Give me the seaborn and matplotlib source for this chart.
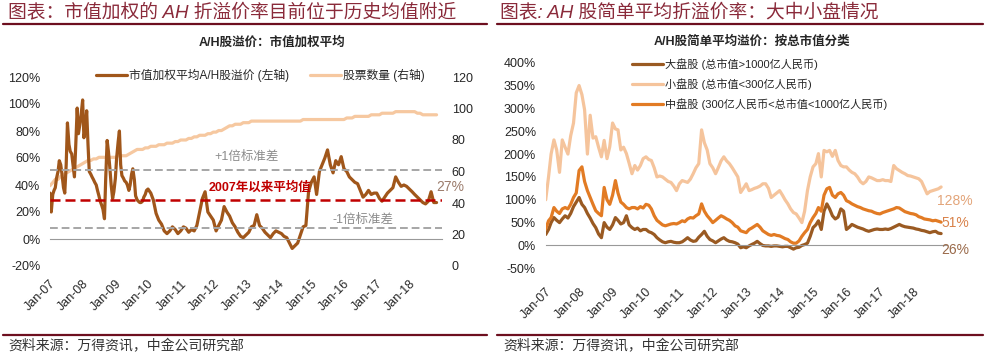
import matplotlib
matplotlib.use("Agg")
import matplotlib.pyplot as plt
import seaborn as sns
import pandas as pd

sns.set_style("white")
plt.rcParams['font.family'] = ['Liberation Sans', 'Noto Sans CJK SC', 'DejaVu Sans']

# ---------------- left chart data ----------------
# semi-monthly 2007-2009, monthly 2010 onwards
dates_early = pd.date_range("2007-01-01", "2009-12-16", freq="SMS")
dates_late = pd.date_range("2010-01-01", "2018-11-01", freq="MS")
premium_dates = list(dates_early) + list(dates_late)
premium_wtd = [
    34, 20, 33, 36, 38, 45, 50, 58, 55, 48, 38, 34, 55, 86, 70, 65, 63, 55, 46, 68, 97, 78, 85, 92,
    103, 75, 82, 95, 70, 50, 48, 46, 44, 42, 40, 36, 32, 28, 25, 22, 15, 45, 73, 65, 52, 40, 30, 35,
    45, 60, 72, 80, 55, 47, 45, 43, 42, 40, 36, 40, 48, 52, 44, 32, 29, 28, 27, 27, 28, 31, 33, 36,
    37, 34, 29, 19, 14, 11, 6, 4, 6, 9, 7, 4,
    6, 9, 8, 5, 7, 6, 10, 20, 30, 35, 20, 17,
    14, 6, 10, 14, 24, 20, 17, 12, 9, 5, 2, 1,
    3, 5, 9, 10, 18, 10, 8, 5, 3, 1, 4, 6,
    5, 4, 2, 1, -3, -7, -5, -3, 3, 9, 10, 35,
    42, 46, 33, 50, 55, 60, 66, 55, 49, 58, 55, 61,
    52, 50, 46, 44, 42, 41, 36, 31, 33, 36, 33, 34,
    34, 30, 28, 31, 34, 36, 38, 46, 42, 39, 40, 39,
    37, 35, 33, 31, 29, 27, 26, 28, 35, 27, 27,
]

months = pd.date_range("2007-01-01", "2018-11-01", freq="MS")
stock_count = [
    51, 53, 55, 55, 57, 58, 59, 60, 61, 62, 63, 64,
    65, 66, 67, 67, 68, 68, 69, 69, 69, 69, 69, 69,
    69, 70, 70, 70, 70, 71, 72, 73, 74, 74, 74, 75,
    75, 76, 76, 76, 77, 77, 77, 78, 78, 78, 79, 79,
    80, 80, 80, 81, 81, 82, 82, 83, 83, 83, 84, 84,
    85, 85, 86, 86, 87, 88, 89, 89, 90, 90, 90, 91,
    91, 91, 92, 92, 92, 92, 92, 92, 92, 92, 92, 92,
    92, 92, 92, 92, 92, 92, 92, 92, 92, 93, 93, 93,
    93, 93, 93, 93, 93, 93, 93, 93, 93, 93, 93, 93,
    93, 94, 94, 94, 95, 95, 95, 95, 95, 95, 96, 96,
    96, 96, 97, 97, 97, 97, 97, 98, 98, 98, 98, 98,
    98, 98, 98, 97, 97, 96, 96, 96, 96, 96, 96,
]
mean_level = 29
plus_std = 51
minus_std = 8

# ---------------- right chart data ----------------
large_cap = [
    24, 35, 50, 61, 55, 50, 58, 65, 60, 70, 85, 95,
    105, 90, 83, 70, 60, 48, 39, 25, 17, 50, 40, 35,
    45, 61, 55, 47, 50, 65, 45, 39, 35, 38, 32, 35,
    35, 30, 28, 24, 17, 12, 8, 6, 8, 9, 7, 6,
    6, 8, 12, 17, 12, 9, 10, 18, 24, 31, 20, 13,
    10, 6, 10, 14, 17, 12, 9, 8, 6, 3, -5, -3,
    -5, -1, 2, 5, 9, 4, 0, -1, -1, -2, -1, -1,
    -2, -3, -2, -2, -5, -8, -5, -4, 0, 2, 5, 20,
    39, 45, 54, 35, 75, 91, 80, 65, 58, 62, 80, 75,
    35, 40, 46, 43, 40, 38, 36, 33, 31, 33, 35, 36,
    35, 35, 36, 35, 37, 40, 43, 46, 43, 41, 40, 39,
    38, 36, 35, 33, 32, 30, 28, 30, 31, 27, 26,
]
small_cap = [
    100, 150, 200, 231, 209, 160, 231, 215, 200, 240, 268, 334,
    350, 330, 297, 200, 285, 235, 238, 215, 194, 230, 190, 216,
    268, 255, 253, 209, 215, 201, 180, 157, 175, 165, 175, 190,
    194, 188, 186, 170, 150, 152, 150, 145, 140, 138, 130, 120,
    135, 142, 140, 138, 145, 157, 170, 179, 253, 225, 209, 179,
    170, 157, 170, 185, 194, 185, 179, 170, 160, 150, 116, 125,
    135, 120, 122, 125, 127, 130, 135, 135, 125, 105, 110, 115,
    120, 110, 100, 91, 80, 72, 69, 60, 50, 75, 120, 150,
    172, 179, 201, 150, 208, 205, 208, 195, 208, 186, 175, 172,
    172, 165, 160, 157, 150, 140, 135, 140, 150, 148, 145, 142,
    142, 144, 142, 142, 140, 175, 168, 164, 160, 157, 153, 152,
    150, 148, 146, 140, 127, 113, 118, 120, 122, 124, 128,
]
mid_cap = [
    36, 54, 61, 83, 75, 70, 80, 83, 80, 90, 105, 115,
    164, 172, 140, 120, 105, 90, 76, 70, 65, 127, 100, 90,
    110, 142, 115, 95, 90, 83, 80, 83, 83, 80, 85, 82,
    90, 88, 80, 65, 55, 50, 45, 43, 45, 47, 48, 47,
    50, 54, 52, 58, 61, 60, 65, 69, 91, 75, 65, 58,
    50, 55, 60, 65, 62, 58, 55, 50, 43, 40, 32, 30,
    28, 35, 38, 42, 46, 40, 32, 28, 24, 22, 24, 22,
    21, 18, 15, 13, 8, 5, 5, 10, 20, 28, 35, 50,
    61, 70, 83, 75, 110, 124, 127, 110, 105, 113, 116, 110,
    98, 95, 91, 88, 85, 83, 80, 78, 76, 75, 72, 70,
    69, 72, 74, 76, 78, 80, 83, 82, 78, 74, 72, 70,
    69, 67, 63, 61, 58, 57, 56, 54, 55, 53, 51,
]

left_ticks = list(range(-20, 121, 20))
right_ticks = list(range(0, 121, 20))
pct_ticks_r = list(range(-50, 401, 50))
year_ticks = pd.date_range("2007-01-01", "2018-01-01", freq="YS")

c_brown = "#a0561a"
c_peach = "#f6c8a0"
c_large = "#9a5a22"
c_small = "#f5c49c"
c_mid = "#e27b24"
c_head = "#8a2a3a"
c_rule = "#6d0f1f"

fig = plt.figure(figsize=(9.87, 3.57), dpi=100)

# headers / footers
fig.text(8 / 987, 1 - 12 / 357, "图表：市值加权的 AH 折溢价率目前位于历史均值附近", fontsize=13.5,
         color=c_head, style="italic", va="center", ha="left")
fig.text(500 / 987, 1 - 12 / 357, "图表: AH 股简单平均折溢价率：大中小盘情况", fontsize=13.5,
         color=c_head, style="italic", va="center", ha="left")
for x0, x1 in [(3, 487), (497, 983)]:
    fig.add_artist(plt.Line2D([x0 / 987, x1 / 987], [1 - 24 / 357] * 2, color=c_rule, lw=1.6))
    fig.add_artist(plt.Line2D([x0 / 987, x1 / 987], [1 - 335 / 357] * 2, color=c_rule, lw=1.6))
fig.text(8 / 987, 1 - 346 / 357, "资料来源：万得资讯，中金公司研究部", fontsize=10, color="#333333",
         style="italic", va="center", ha="left")
fig.text(503 / 987, 1 - 346 / 357, "资料来源：万得资讯，中金公司研究部", fontsize=10, color="#333333",
         style="italic", va="center", ha="left")
fig.text(272 / 987, 1 - 43 / 357, "A/H股溢价：市值加权平均", fontsize=9, fontweight="bold",
         ha="center", va="center")
fig.text(752 / 987, 1 - 42 / 357, "A/H股简单平均溢价：按总市值分类", fontsize=9, fontweight="bold",
         ha="center", va="center")


def style_axis(ax, ticks, pad):
    for s in ["top", "right", "left"]:
        ax.spines[s].set_visible(False)
    ax.spines["bottom"].set_position(("data", 0))
    ax.spines["bottom"].set_color("#999999")
    ax.set_xticks(year_ticks)
    ax.set_xticklabels([d.strftime("Jan-%y") for d in year_ticks], rotation=45, ha="right",
                       rotation_mode="anchor", fontsize=9)
    ax.tick_params(axis="x", direction="out", length=4, color="#999999", pad=pad)
    ax.tick_params(axis="y", length=0, labelsize=9, pad=7)
    ax.set_yticks(ticks)
    ax.set_yticklabels([f"{t}%" for t in ticks])
    ax.set_xlabel("")
    ax.set_ylabel("")
    ax.grid(False)


# ---------------- left chart ----------------
axL = fig.add_axes([50 / 987, 1 - 266 / 357, 392 / 987, 189 / 357])
axR2 = axL.twinx()
sns.lineplot(x=months, y=stock_count, ax=axR2, color=c_peach, lw=2.3, label="股票数量 (右轴)")
sns.lineplot(x=premium_dates, y=premium_wtd, ax=axL, color=c_brown, lw=2.3,
             label="市值加权平均A/H股溢价 (左轴)")
axL.set_zorder(axR2.get_zorder() + 1)
axL.patch.set_visible(False)
axL.axhline(plus_std, color="#a6a6a6", ls="--", lw=1.4, dashes=(4, 2))
axL.axhline(minus_std, color="#a6a6a6", ls="--", lw=1.4, dashes=(4, 2))
axL.axhline(mean_level, color="#c00000", ls="--", lw=1.8, dashes=(4, 2))
axL.set_ylim(-20, 120)
axL.set_xlim(pd.Timestamp("2007-01-01"), pd.Timestamp("2019-01-01"))
style_axis(axL, left_ticks, 24)
axR2.set_ylim(0, 120)
axR2.set_yticks(right_ticks)
axR2.set_yticklabels([str(t) for t in right_ticks])
axR2.tick_params(axis="y", length=0, labelsize=9, pad=7)
for s in ["top", "right", "left", "bottom"]:
    axR2.spines[s].set_visible(False)
axR2.set_ylabel("")
axR2.grid(False)
if axR2.get_legend():
    axR2.get_legend().remove()
hL, lL = axL.get_legend_handles_labels()
hR, lR = axR2.get_legend_handles_labels()
axL.legend(hL + hR, lL + lR, ncol=2, frameon=False, loc="center left", bbox_to_anchor=(0.09, 1.01),
           fontsize=8.5, handlelength=2.6, columnspacing=1.8, handletextpad=0.2)

axL.text(pd.Timestamp("2013-01-01"), 61, "+1倍标准差", color="#8c8c8c", fontsize=9, ha="center", va="center")
axL.text(pd.Timestamp("2013-06-01"), 38, "2007年以来平均值", color="#c00000", fontsize=9,
         fontweight="bold", ha="center", va="center")
axL.text(pd.Timestamp("2016-08-01"), 14, "-1倍标准差", color="#8c8c8c", fontsize=9, ha="center", va="center")
axL.text(pd.Timestamp("2019-04-01"), 38.5, "27%", color="#9b7b6b", fontsize=10, ha="center", va="center")

# ---------------- right chart ----------------
axB = fig.add_axes([545.7 / 987, 1 - 268.3 / 357, 401 / 987, 205.6 / 357])
sns.lineplot(x=months, y=large_cap, ax=axB, color=c_large, lw=2.3, label="大盘股 (总市值>1000亿人民币)")
sns.lineplot(x=months, y=small_cap, ax=axB, color=c_small, lw=2.3, label="小盘股 (总市值<300亿人民币)")
sns.lineplot(x=months, y=mid_cap, ax=axB, color=c_mid, lw=2.3,
             label="中盘股 (300亿人民币<总市值<1000亿人民币)")
axB.set_ylim(-50, 400)
axB.set_xlim(pd.Timestamp("2007-01-01"), pd.Timestamp("2019-01-01"))
style_axis(axB, pct_ticks_r, 25)
axB.legend(frameon=False, loc="upper left", bbox_to_anchor=(0.19, 1.07), fontsize=8,
           handlelength=2.8, handletextpad=0.2, labelspacing=0.75)
axB.text(pd.Timestamp("2019-04-01"), 98, "128%", color="#e3a57a", fontsize=10, ha="center", va="center")
axB.text(pd.Timestamp("2019-04-01"), 49, "51%", color="#d9824a", fontsize=10, ha="center", va="center")
axB.text(pd.Timestamp("2019-04-01"), -10, "26%", color="#9a6a4a", fontsize=10, ha="center", va="center")

fig.savefig("out.png", dpi=100)
